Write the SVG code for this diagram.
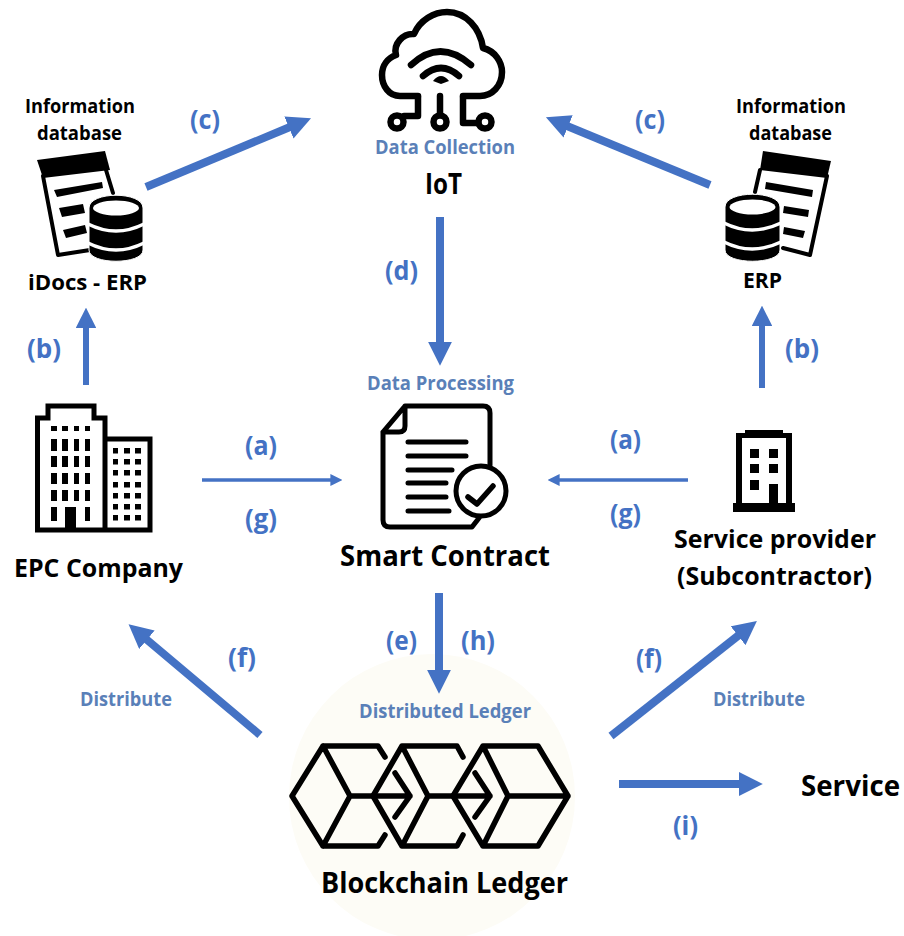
<svg xmlns="http://www.w3.org/2000/svg" width="904" height="936" viewBox="0 0 904 936">
<style>
text{font-family:"Open Sans","Noto Sans","Liberation Sans",sans-serif;font-weight:700;text-anchor:start}
.k{fill:#000}.s{font-size:19px}.e{font-size:21px}.m{font-size:25px}.l{font-size:28px}
.d{fill:#5a80b8;font-size:19px}
.p{fill:#4472c4;font-size:27px}
.ic{fill:none;stroke:#000;stroke-linejoin:round;stroke-linecap:round}
.a{stroke:#4472c4;fill:none}
</style>
<defs>
<marker id="h" viewBox="0 0 10 10" refX="0.5" refY="5" markerWidth="3" markerHeight="3" orient="auto" markerUnits="strokeWidth"><path d="M0,0L10,5L0,10Z" fill="#4472c4"/></marker>
<marker id="hs" viewBox="0 0 10 10" refX="0.5" refY="5" markerWidth="3.4" markerHeight="3.4" orient="auto" markerUnits="strokeWidth"><path d="M0,0L10,5L0,10Z" fill="#4472c4"/></marker>
</defs>
<rect width="904" height="936" fill="#fff"/>
<circle cx="432" cy="797" r="143" fill="#fdfcf6"/>

<g id="connectors">
<line class="a" stroke-width="8" marker-end="url(#h)" x1="146" y1="187" x2="290" y2="127"/>
<line class="a" stroke-width="8" marker-end="url(#h)" x1="710" y1="185" x2="567" y2="126"/>
<line class="a" stroke-width="8" marker-end="url(#h)" x1="440" y1="217" x2="440" y2="343"/>
<line class="a" stroke-width="6" marker-end="url(#hs)" x1="86" y1="385" x2="86" y2="327"/>
<line class="a" stroke-width="6" marker-end="url(#hs)" x1="762" y1="388" x2="762" y2="325"/>
<line class="a" stroke-width="3.5" marker-end="url(#hs)" x1="202" y1="480" x2="331" y2="480"/>
<line class="a" stroke-width="3.5" marker-end="url(#hs)" x1="688" y1="480" x2="559" y2="480"/>
<line class="a" stroke-width="8" marker-end="url(#h)" x1="439" y1="593" x2="439" y2="671"/>
<line class="a" stroke-width="8" marker-end="url(#h)" x1="260" y1="735" x2="146" y2="639"/>
<line class="a" stroke-width="8" marker-end="url(#h)" x1="611" y1="736" x2="739" y2="635"/>
<line class="a" stroke-width="8" marker-end="url(#h)" x1="619" y1="784" x2="740" y2="784"/>
</g>

<g id="connector-labels">
<text class="p" x="190" y="129" textLength="30" lengthAdjust="spacingAndGlyphs">(c)</text>
<text class="p" x="635" y="129" textLength="30" lengthAdjust="spacingAndGlyphs">(c)</text>
<text class="p" x="385" y="280" textLength="33" lengthAdjust="spacingAndGlyphs">(d)</text>
<text class="p" x="27" y="358" textLength="34" lengthAdjust="spacingAndGlyphs">(b)</text>
<text class="p" x="785" y="358" textLength="34" lengthAdjust="spacingAndGlyphs">(b)</text>
<text class="p" x="245" y="455" textLength="32" lengthAdjust="spacingAndGlyphs">(a)</text>
<text class="p" x="245" y="528" textLength="32" lengthAdjust="spacingAndGlyphs">(g)</text>
<text class="p" x="610" y="449" textLength="31" lengthAdjust="spacingAndGlyphs">(a)</text>
<text class="p" x="610" y="523" textLength="31" lengthAdjust="spacingAndGlyphs">(g)</text>
<text class="p" x="386" y="650" textLength="31" lengthAdjust="spacingAndGlyphs">(e)</text>
<text class="p" x="461" y="650" textLength="34" lengthAdjust="spacingAndGlyphs">(h)</text>
<text class="p" x="228" y="667" textLength="28" lengthAdjust="spacingAndGlyphs">(f)</text>
<text class="p" x="636" y="668" textLength="26" lengthAdjust="spacingAndGlyphs">(f)</text>
<text class="p" x="673" y="835" textLength="25" lengthAdjust="spacingAndGlyphs">(i)</text>
<text class="d" x="80" y="706" textLength="92" lengthAdjust="spacingAndGlyphs">Distribute</text>
<text class="d" x="713" y="706" textLength="92" lengthAdjust="spacingAndGlyphs">Distribute</text>
</g>

<g id="iot">
<path class="ic" stroke-width="6.500" d="M418,96H400C389,96 382,86 382,75C382,65 388,58 396,55C393,44 403,33 414,34C420,20 434,12 447,12C466,12 480,28 483,48C495,51 502,62 502,72C502,86 492,96 480,96H463"/>
<path class="ic" stroke-width="6.500" d="M440,96V114M418,97V116H404M463,97V123H478"/>
<circle class="ic" stroke-width="6.500" cx="397" cy="122" r="6.500"/>
<circle class="ic" stroke-width="6.500" cx="440" cy="122" r="6.500"/>
<circle class="ic" stroke-width="6.500" cx="485" cy="122" r="6.500"/>
<path class="ic" stroke-width="6.500" stroke-linecap="butt" d="M411,65Q440,38 471,65M423,76Q441,60 459,76"/>
<path d="M433,81Q441,71 449,81L441,84Z" fill="#000"/>
<text class="d" x="375" y="154" textLength="140" lengthAdjust="spacingAndGlyphs">Data Collection</text>
<text class="k l" x="425" y="194" textLength="37" lengthAdjust="spacingAndGlyphs">IoT</text>
</g>

<g id="database-left">
<path d="M37,160L105,151L110,170L43,178Z" fill="#000"/>
<path class="ic" stroke-width="4" stroke-linecap="butt" d="M43,176L58,255L90,250M106,170L113,193"/>
<path d="M54,190L102,182L103,188L57,197ZM59,208L83,204L85,213L62,217ZM63,230L85,225L87,233L66,238Z" fill="#000"/>
<path d="M89,208C89,191 143,191 143,208V250C143,265 89,265 89,250Z" fill="#000" stroke="#fff" stroke-width="1"/>
<ellipse cx="116" cy="208" rx="23" ry="7.500" fill="#fff"/>
<path d="M88,224Q116,238 144,224M88,243Q116,257 144,243" fill="none" stroke="#fff" stroke-width="3.500"/>
<text class="k s" x="25" y="113" textLength="110" lengthAdjust="spacingAndGlyphs">Information</text>
<text class="k s" x="37" y="140" textLength="85" lengthAdjust="spacingAndGlyphs">database</text>
<text class="k e" x="28" y="290" textLength="119" lengthAdjust="spacingAndGlyphs">iDocs - ERP</text>
</g>

<g id="database-right">
<path d="M763,151L831,161L827,178L760,170Z" fill="#000"/>
<path class="ic" stroke-width="4" stroke-linecap="butt" d="M827,176L810,255L783,248M760,170L755,192"/>
<path d="M766,182L813,190L812,197L765,189ZM784,206L809,210L808,217L783,213ZM784,227L805,231L803,238L783,234Z" fill="#000"/>
<path d="M725,207C725,190 780,190 780,207V250C780,265 725,265 725,250Z" fill="#000" stroke="#fff" stroke-width="1"/>
<ellipse cx="752.500" cy="207" rx="23" ry="7.500" fill="#fff"/>
<path d="M724,223Q752,237 781,223M724,242Q752,256 781,242" fill="none" stroke="#fff" stroke-width="3.500"/>
<text class="k s" x="736" y="113" textLength="110" lengthAdjust="spacingAndGlyphs">Information</text>
<text class="k s" x="749" y="140" textLength="83" lengthAdjust="spacingAndGlyphs">database</text>
<text class="k e" x="743" y="288" textLength="39" lengthAdjust="spacingAndGlyphs">ERP</text>
</g>

<g id="epc-company">
<path d="M37.500,530V418H48V406H94V418H105V530ZM105,439H150V530H105" fill="none" stroke="#000" stroke-width="5"/>
<path fill="#000" d="M51,426h6v5h-6zM62,426h6v5h-6zM74,426h5v5h-5zM85,426h5v5h-5zM51,439h6v12h-6zM62,439h6v12h-6zM74,439h5v12h-5zM85,439h5v12h-5zM51,456h6v11h-6zM62,456h6v11h-6zM74,456h5v11h-5zM85,456h5v11h-5zM51,473h6v11h-6zM62,473h6v11h-6zM74,473h5v11h-5zM85,473h5v11h-5zM51,490h6v11h-6zM62,490h6v11h-6zM74,490h5v11h-5zM85,490h5v11h-5zM51,507h6v14h-6zM85,507h5v14h-5zM65,507h11v23h-11z"/>
<path fill="#000" d="M113,448h5v5.500h-5zM124,448h6v5.500h-6zM135,448h6v5.500h-6zM113,459h5v5.500h-5zM124,459h6v5.500h-6zM135,459h6v5.500h-6zM113,470h5v5.500h-5zM124,470h6v5.500h-6zM135,470h6v5.500h-6zM113,482h5v5.500h-5zM124,482h6v5.500h-6zM135,482h6v5.500h-6zM113,493h5v5.500h-5zM124,493h6v5.500h-6zM135,493h6v5.500h-6zM113,504h5v5.500h-5zM124,504h6v5.500h-6zM135,504h6v5.500h-6zM113,515h5v5.500h-5zM124,515h6v5.500h-6zM135,515h6v5.500h-6z"/>
<text class="k m" x="14" y="577" textLength="169" lengthAdjust="spacingAndGlyphs">EPC Company</text>
</g>

<g id="smart-contract">
<path class="ic" stroke-width="5" d="M405,406H483Q490,406 490,413V465M383,432V520Q383,527 390,527H472L479,518M405,406L383,432H399Q405,432 405,426Z"/>
<path class="ic" stroke-width="5" d="M408,442H466M408,456H466M408,470H452M408,483H446M408,497H446M408,511H449"/>
<circle class="ic" stroke-width="5" cx="481" cy="491" r="25"/>
<path class="ic" stroke-width="5.500" d="M468,497L477,504L493,486"/>
<text class="d" x="367" y="390" textLength="147" lengthAdjust="spacingAndGlyphs">Data Processing</text>
<text class="k l" x="340" y="566" textLength="210" lengthAdjust="spacingAndGlyphs">Smart Contract</text>
</g>

<g id="service-provider">
<path d="M733,503H736V433H745V430H783V433H792V503H795V512H733ZM742,438V503H769V484H778V503H786V438Z" fill="#000" fill-rule="evenodd"/>
<path d="M750,449h9v9h-9zM769,449h9v9h-9zM750,464h9v9h-9zM769,464h9v9h-9zM750,480h9v10h-9z" fill="#000"/>
<text class="k m" x="674" y="548" textLength="202" lengthAdjust="spacingAndGlyphs">Service provider</text>
<text class="k m" x="677" y="585" textLength="195" lengthAdjust="spacingAndGlyphs">(Subcontractor)</text>
</g>

<g id="blockchain-ledger">
<path class="ic" stroke-width="5.500" stroke-linecap="butt" stroke-linejoin="miter" d="M385,757L378,746H323L292,796L323,846H378L385,835M323,746L350,796L323,846M350,796H410M395,773L410,796L395,817"/>
<path class="ic" stroke-width="5.500" stroke-linecap="butt" stroke-linejoin="miter" d="M463,757L457,746H402L373,796L402,846H457L463,835M402,746L428,796L402,846M428,796H490M475,773L490,796L475,817"/>
<path class="ic" stroke-width="5.500" stroke-linecap="butt" stroke-linejoin="miter" d="M483,746H538L568,796L538,846H483L453,796ZM483,746L508,796L483,846M508,796H568"/>
<text class="d" x="359" y="718" textLength="172" lengthAdjust="spacingAndGlyphs">Distributed Ledger</text>
<text class="k l" x="321" y="893" textLength="247" lengthAdjust="spacingAndGlyphs">Blockchain Ledger</text>
</g>

<g id="service">
<text class="k l" x="801" y="796" textLength="99" lengthAdjust="spacingAndGlyphs">Service</text>
</g>
</svg>
